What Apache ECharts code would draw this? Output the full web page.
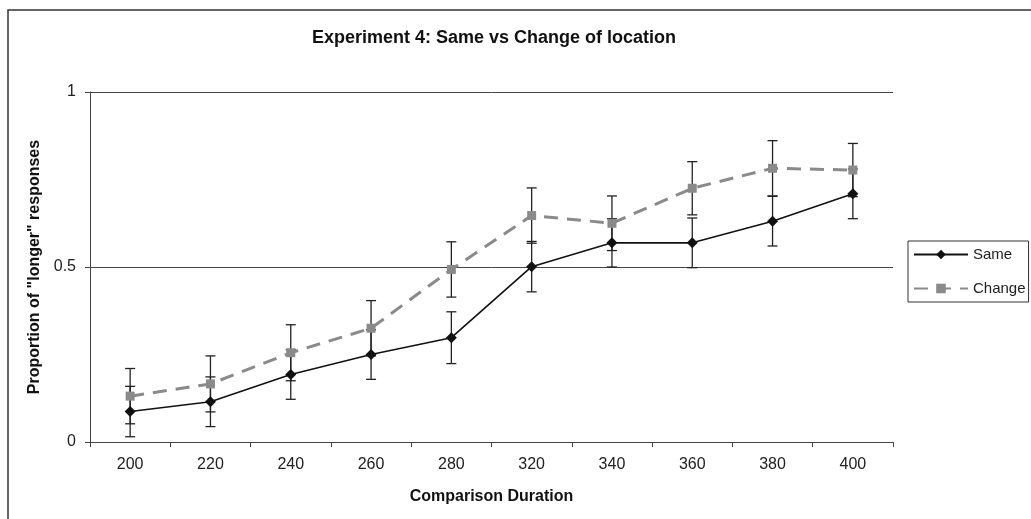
<!DOCTYPE html>
<html>
<head>
<meta charset="utf-8">
<script src="https://cdn.jsdelivr.net/npm/echarts@6/dist/echarts.min.js"></script>
<style>
  html, body { margin: 0; padding: 0; background: #ffffff; }
  #chart { width: 1031px; height: 519px; }
</style>
</head>
<body>
<div id="chart"></div>
<script>
// Data
var categories = ['200', '220', '240', '260', '280', '320', '340', '360', '380', '400'];
var sameValues = [0.087, 0.115, 0.193, 0.250, 0.298, 0.501, 0.569, 0.569, 0.631, 0.709];
var sameErrors = [0.072, 0.071, 0.071, 0.071, 0.074, 0.072, 0.069, 0.071, 0.071, 0.071];
var changeValues = [0.131, 0.166, 0.255, 0.325, 0.493, 0.647, 0.625, 0.725, 0.782, 0.777];
var changeErrors = [0.079, 0.080, 0.080, 0.079, 0.079, 0.079, 0.078, 0.076, 0.079, 0.076];
var yTicks = [0, 0.5, 1];

function errData(vals, errs) {
  return vals.map(function (v, i) { return [i, v - errs[i], v + errs[i]]; });
}

function errRender(color) {
  return function (params, api) {
    var x = api.value(0);
    var lo = api.coord([x, api.value(1)]);
    var hi = api.coord([x, api.value(2)]);
    var w = 5;
    var st = { stroke: color, lineWidth: 1.3 };
    return {
      type: 'group',
      children: [
        { type: 'line', shape: { x1: lo[0], y1: lo[1], x2: hi[0], y2: hi[1] }, style: st },
        { type: 'line', shape: { x1: lo[0] - w, y1: lo[1], x2: lo[0] + w, y2: lo[1] }, style: st },
        { type: 'line', shape: { x1: hi[0] - w, y1: hi[1], x2: hi[0] + w, y2: hi[1] }, style: st }
      ]
    };
  };
}

var chart = echarts.init(document.getElementById('chart'), null, { renderer: 'canvas' });
var font = 'Liberation Sans, Arial, sans-serif';

chart.setOption({
  backgroundColor: '#ffffff',
  animation: false,
  textStyle: { fontFamily: font },
  graphic: [
    { type: 'rect', z: -1, shape: { x: 8, y: 10, width: 1100, height: 600 },
      style: { fill: 'none', stroke: '#333333', lineWidth: 1.5 } },
    { type: 'text', x: 494, y: 38,
      style: { text: 'Experiment 4: Same vs Change of location', fill: '#111111',
        font: 'bold 18px ' + font, textAlign: 'center', textVerticalAlign: 'middle' } }
  ],
  grid: { left: 90, right: 138, top: 92, bottom: 77 },
  legend: {
    data: ['Same', 'Change'],
    orient: 'vertical',
    left: 908, top: 241,
    borderColor: '#333333', borderWidth: 1,
    padding: [6, 3, 6, 5],
    itemWidth: 54, itemHeight: 12, itemGap: 19,
    textStyle: { fontSize: 15, color: '#222222', fontFamily: font }
  },
  xAxis: {
    type: 'category',
    data: categories,
    boundaryGap: true,
    name: 'Comparison Duration',
    nameLocation: 'middle',
    nameGap: 47,
    nameTextStyle: { fontSize: 16, fontWeight: 'bold', color: '#111111' },
    axisLine: { lineStyle: { color: '#444444', width: 1 } },
    axisTick: { show: true, interval: 0, length: 5, lineStyle: { color: '#444444' } },
    axisLabel: { fontSize: 16, color: '#222222', margin: 15 },
    splitLine: { show: false }
  },
  yAxis: {
    type: 'value',
    min: yTicks[0], max: yTicks[yTicks.length - 1], interval: 0.5,
    name: 'Proportion of "longer" responses',
    nameLocation: 'middle',
    nameGap: 45,
    nameRotate: 90,
    nameTextStyle: { fontSize: 16, fontWeight: 'bold', color: '#111111' },
    axisLine: { show: true, lineStyle: { color: '#444444', width: 1 } },
    axisTick: { show: true, length: 5, lineStyle: { color: '#444444' } },
    axisLabel: { fontSize: 16, color: '#222222', margin: 14,
      formatter: function (v) { return String(v); } },
    splitLine: { show: true, lineStyle: { color: '#444444', width: 1 } }
  },
  series: [
    {
      name: 'SameErr', type: 'custom', data: errData(sameValues, sameErrors),
      encode: { x: 0, y: [1, 2] }, renderItem: errRender('#222222'), z: 2
    },
    {
      name: 'ChangeErr', type: 'custom', data: errData(changeValues, changeErrors),
      encode: { x: 0, y: [1, 2] }, renderItem: errRender('#222222'), z: 2
    },
    {
      name: 'Same', type: 'line', data: sameValues,
      symbol: 'diamond', symbolSize: 11, showSymbol: true,
      lineStyle: { color: '#111111', width: 1.6, type: 'solid' },
      itemStyle: { color: '#111111' }, z: 4
    },
    {
      name: 'Change', type: 'line', data: changeValues,
      symbol: 'rect', symbolSize: 9, showSymbol: true,
      lineStyle: { color: '#8a8a8a', width: 3, type: [14, 9] },
      itemStyle: { color: '#8a8a8a' }, z: 3
    }
  ]
});
</script>
</body>
</html>
